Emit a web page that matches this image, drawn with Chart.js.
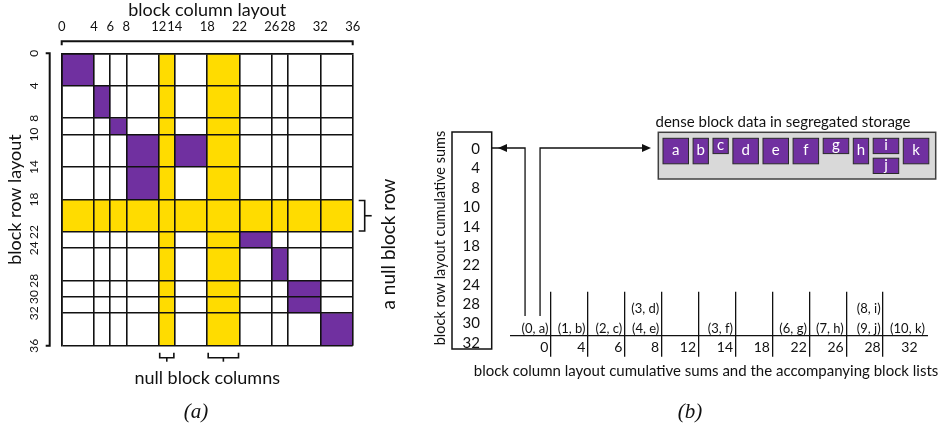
<!DOCTYPE html>
<html>
<head>
<meta charset="utf-8">
<script src="https://cdn.jsdelivr.net/npm/chart.js@4.4.1/dist/chart.umd.min.js"></script>
<style>
  body { margin: 0; background: #fff; }
  #wrap { position: relative; width: 938px; height: 440px; }
  canvas { position: absolute; top: 0; }
</style>
</head>
<body>
<div id="wrap">
  <canvas id="matrix" width="400" height="440" style="left:0"></canvas>
  <canvas id="lists" width="538" height="440" style="left:400px"></canvas>
</div>
<script>
// block layout boundaries
const colBounds = [0, 4, 6, 8, 12, 14, 18, 22, 26, 28, 32, 36];
const rowBounds = [0, 4, 8, 10, 14, 18, 22, 24, 28, 30, 32, 36];

// dense blocks
const blockNames = ['a', 'b', 'c', 'd', 'e', 'f', 'g', 'h', 'i', 'j', 'k'];
const blockRows = [[0, 4], [4, 8], [8, 10], [10, 14], [14, 18], [10, 14], [22, 24], [24, 28], [28, 30], [30, 32], [32, 36]];
const blockCols = [[0, 4], [4, 6], [6, 8], [8, 12], [8, 12], [14, 18], [22, 26], [26, 28], [28, 32], [28, 32], [32, 36]];

// null block rows / columns
const nullCols = [[12, 14], [18, 22]];
const nullRows = [[18, 22]];

// cumulative sums shown in (b)
const rowSums = [0, 4, 8, 10, 14, 18, 22, 24, 28, 30, 32];
const colSums = ['0', '4', '6', '8', '12', '14', '18', '22', '26', '28', '32'];

// blocks stacked under the previous one in the storage box
const storageStack = ['j'];

const PURPLE = '#7030A0';
const YELLOW = '#FFDC00';
const INK = '#111';
const FONT = 'Lato';

Chart.defaults.font.family = FONT;
Chart.defaults.color = INK;

function rotText(ctx, txt, x, y, size) {
  ctx.save();
  ctx.translate(x, y);
  ctx.rotate(-Math.PI / 2);
  ctx.font = size + 'px ' + FONT;
  ctx.textAlign = 'center';
  ctx.textBaseline = 'middle';
  ctx.fillText(txt, 0, 0);
  ctx.restore();
}

function line(ctx, pts) {
  ctx.beginPath();
  ctx.moveTo(pts[0][0], pts[0][1]);
  for (let i = 1; i < pts.length; i++) ctx.lineTo(pts[i][0], pts[i][1]);
  ctx.stroke();
}

function arrowHead(ctx, x, y, dir) {
  ctx.beginPath();
  ctx.moveTo(x, y);
  ctx.lineTo(x - dir * 9, y - 4);
  ctx.lineTo(x - dir * 9, y + 4);
  ctx.closePath();
  ctx.fill();
}

// ---------- (a) the matrix ----------
const matrixPlugin = {
  id: 'matrixCells',
  beforeDraw(chart) {
    const {ctx, chartArea: ca, scales: {x, y}} = chart;
    ctx.save();
    ctx.fillStyle = YELLOW;
    nullCols.forEach(c => {
      const x0 = x.getPixelForValue(c[0]), x1 = x.getPixelForValue(c[1]);
      ctx.fillRect(x0, ca.top, x1 - x0, ca.bottom - ca.top);
    });
    nullRows.forEach(r => {
      const y0 = y.getPixelForValue(r[0]), y1 = y.getPixelForValue(r[1]);
      ctx.fillRect(ca.left, y0, ca.right - ca.left, y1 - y0);
    });
    ctx.fillStyle = PURPLE;
    blockNames.forEach((n, i) => {
      const x0 = x.getPixelForValue(blockCols[i][0]), x1 = x.getPixelForValue(blockCols[i][1]);
      const y0 = y.getPixelForValue(blockRows[i][0]), y1 = y.getPixelForValue(blockRows[i][1]);
      ctx.fillRect(x0, y0, x1 - x0, y1 - y0);
    });
    ctx.restore();
  },
  afterDraw(chart) {
    const {ctx, chartArea: ca, scales: {x, y}} = chart;
    ctx.save();
    ctx.strokeStyle = INK;
    ctx.fillStyle = INK;
    ctx.lineWidth = 2;
    // top axis line
    const ty = ca.top - 12;
    line(ctx, [[ca.left, ty + 4], [ca.left, ty], [ca.right, ty], [ca.right, ty + 4]]);
    // left axis line
    const lx = ca.left - 12;
    line(ctx, [[lx - 4, ca.top], [lx, ca.top], [lx, ca.bottom], [lx - 4, ca.bottom]]);
    rowBounds.forEach(v => rotText(ctx, String(v), lx - 16, y.getPixelForValue(v), 12));
    // null block row bracket
    const r0 = y.getPixelForValue(nullRows[0][0]), r1 = y.getPixelForValue(nullRows[0][1]);
    const bx = ca.right + 12;
    ctx.lineWidth = 1.6;
    line(ctx, [[bx - 6, r0 + 1], [bx, r0 + 1], [bx, r1 - 1], [bx - 6, r1 - 1]]);
    line(ctx, [[bx, (r0 + r1) / 2], [bx + 7, (r0 + r1) / 2]]);
    rotText(ctx, 'a null block row', bx + 24, 244, 19);
    // null block column brackets
    const by = ca.bottom + 12;
    nullCols.forEach(c => {
      const x0 = x.getPixelForValue(c[0]) + 1, x1 = x.getPixelForValue(c[1]) - 1;
      line(ctx, [[x0, by - 5], [x0, by], [x1, by], [x1, by - 5]]);
      line(ctx, [[(x0 + x1) / 2, by], [(x0 + x1) / 2, by + 4]]);
    });
    ctx.font = '18px ' + FONT;
    ctx.textAlign = 'center';
    ctx.textBaseline = 'middle';
    ctx.fillText('null block columns', (ca.left + ca.right) / 2, by + 20);
    ctx.font = 'italic 21px "Liberation Serif"';
    ctx.fillText('(a)', 196, 412);
    ctx.restore();
  }
};

new Chart(document.getElementById('matrix'), {
  type: 'scatter',
  data: { datasets: [{ data: [] }] },
  options: {
    responsive: false,
    animation: false,
    layout: { padding: { top: 0, left: 0, right: 47.3, bottom: 94.3 } },
    plugins: { legend: { display: false }, tooltip: { enabled: false } },
    scales: {
      x: {
        type: 'linear', position: 'top', min: 0, max: 36,
        afterBuildTicks: s => { s.ticks = colBounds.map(v => ({ value: v })); },
        afterFit: s => { s.height = 53.3; },
        ticks: { autoSkip: false, maxRotation: 0, padding: 18.5, font: { size: 13 }, color: INK },
        grid: { color: INK, lineWidth: 1.6, drawTicks: false },
        border: { color: INK, width: 1.6 },
        title: { display: true, text: 'block column layout', font: { size: 18 }, padding: { top: -1, bottom: 0 }, color: INK }
      },
      y: {
        type: 'linear', position: 'left', min: 0, max: 36, reverse: true,
        afterBuildTicks: s => { s.ticks = rowBounds.map(v => ({ value: v })); },
        afterFit: s => { s.width = 61.7; },
        ticks: { display: false, autoSkip: false },
        grid: { color: INK, lineWidth: 1.6, drawTicks: false },
        border: { color: INK, width: 1.6 },
        title: { display: true, text: 'block row layout', font: { size: 18 }, padding: { top: 4, bottom: 0 }, color: INK }
      }
    }
  },
  plugins: [matrixPlugin]
});

// ---------- (b) cumulative sums and block lists ----------
const listsPlugin = {
  id: 'blockLists',
  afterDraw(chart) {
    const {ctx, chartArea: ca, scales: {x}} = chart;
    const half = (x.getPixelForValue(1) - x.getPixelForValue(0)) / 2;
    const last = colSums.length - 1;
    ctx.save();
    ctx.strokeStyle = INK;
    ctx.fillStyle = INK;
    ctx.lineWidth = 1.3;
    // axis line
    line(ctx, [[ca.left - 4, ca.bottom], [ca.right + 8, ca.bottom]]);

    // block lists per column
    ctx.font = '13px ' + FONT;
    ctx.textAlign = 'right';
    ctx.textBaseline = 'middle';
    colSums.forEach((c, ci) => {
      const items = [];
      blockNames.forEach((n, bi) => {
        if (String(blockCols[bi][0]) === c) items.push('(' + rowSums.indexOf(blockRows[bi][0]) + ', ' + n + ')');
      });
      const rx = ci === last ? ca.right + 5 : x.getPixelForValue(ci) + half - 2.4;
      items.forEach((t, k) => {
        ctx.fillText(t, rx, ca.bottom - 7 - (items.length - 1 - k) * 20);
      });
    });

    // row cumulative sums box
    ctx.lineWidth = 1.5;
    ctx.strokeRect(52, 132, 39.7, 217);
    ctx.font = '15px ' + FONT;
    rowSums.forEach((v, i) => ctx.fillText(String(v), 80, 149.3 + i * 19.34));
    rotText(ctx, 'block row layout cumulative sums', 40, 238, 14.5);

    // arrows from the first column entry
    const c0 = x.getPixelForValue(0);
    ctx.lineWidth = 1.3;
    line(ctx, [[c0 - 7.4, 316], [c0 - 7.4, 148], [92, 148]]);
    arrowHead(ctx, 98, 148, -1);
    line(ctx, [[c0 + 7.6, 316], [c0 + 7.6, 148], [245, 148]]);
    arrowHead(ctx, 251, 148, 1);

    // segregated storage
    ctx.fillStyle = '#D9D9D9';
    ctx.fillRect(258.3, 132.3, 277.4, 46.7);
    ctx.lineWidth = 1.5;
    ctx.strokeStyle = '#404040';
    ctx.strokeRect(258.3, 132.3, 277.4, 46.7);
    ctx.fillStyle = INK;
    ctx.textAlign = 'center';
    ctx.font = '15px ' + FONT;
    ctx.fillText('dense block data in segregated storage', 383, 122.5);
    const unit = 5.1, gap = 4.6, top = 138.3;
    let bx = 263, lastW = 0, lastY = top;
    blockNames.forEach((n, i) => {
      const w = unit * (blockCols[i][1] - blockCols[i][0] + 1);
      const h = unit * (blockRows[i][1] - blockRows[i][0] + 1);
      let px, py;
      if (storageStack.includes(n)) {
        px = bx - gap - lastW; py = lastY + gap;
      } else {
        px = bx; py = top; bx += w + gap; lastW = w;
      }
      lastY = py + h;
      ctx.fillStyle = PURPLE;
      ctx.fillRect(px, py, w, h);
      ctx.strokeStyle = '#2a2a2a';
      ctx.lineWidth = 1;
      ctx.strokeRect(px, py, w, h);
      ctx.fillStyle = '#fff';
      ctx.font = '15px ' + FONT;
      ctx.fillText(n, px + w / 2, py + h / 2 - 1);
    });

    // caption
    ctx.fillStyle = INK;
    ctx.font = '15px ' + FONT;
    ctx.fillText('block column layout cumulative sums and the accompanying block lists', 306, 371);
    ctx.font = 'italic 21px "Liberation Serif"';
    ctx.fillText('(b)', 290, 412);
    ctx.restore();
  }
};

new Chart(document.getElementById('lists'), {
  type: 'bar',
  data: { labels: colSums, datasets: [{ data: [] }] },
  options: {
    responsive: false,
    animation: false,
    layout: { padding: { top: 291.7, left: 114, right: 18, bottom: 64.3 } },
    plugins: { legend: { display: false }, tooltip: { enabled: false } },
    scales: {
      x: {
        type: 'category', position: 'bottom', offset: true,
        afterFit: s => { s.height = 40; },
        ticks: { autoSkip: false, maxRotation: 0, align: 'end', labelOffset: 16, padding: -17.8, font: { size: 14 }, color: INK },
        grid: {
          offset: true, drawTicks: true, tickLength: 21, lineWidth: 1.3,
          color: c => (c.index > 0 ? INK : 'rgba(0,0,0,0)')
        },
        border: { display: false }
      },
      y: { display: false }
    }
  },
  plugins: [listsPlugin]
});
</script>
</body>
</html>
